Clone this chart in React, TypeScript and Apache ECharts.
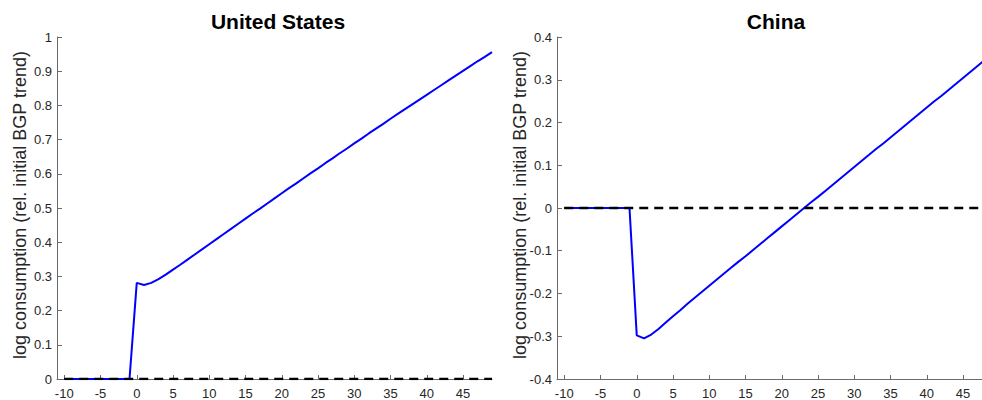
import React, { useEffect, useRef } from "react";
import * as echarts from "echarts";

const years = [
  -10, -9, -8, -7, -6, -5, -4, -3, -2, -1,
  0, 1, 2, 3, 4, 5, 6, 7, 8, 9,
  10, 11, 12, 13, 14, 15, 16, 17, 18, 19,
  20, 21, 22, 23, 24, 25, 26, 27, 28, 29,
  30, 31, 32, 33, 34, 35, 36, 37, 38, 39,
  40, 41, 42, 43, 44, 45, 46, 47, 48, 49,
];

const usConsumption = [
  0, 0, 0, 0, 0, 0, 0, 0, 0, 0,
  0.281, 0.275, 0.281, 0.292, 0.305, 0.32, 0.334, 0.349, 0.364, 0.379,
  0.394, 0.409, 0.424, 0.439, 0.454, 0.469, 0.484, 0.498, 0.513, 0.528,
  0.543, 0.558, 0.572, 0.587, 0.602, 0.616, 0.631, 0.645, 0.66, 0.674,
  0.689, 0.703, 0.718, 0.732, 0.746, 0.761, 0.775, 0.789, 0.803, 0.817,
  0.831, 0.845, 0.859, 0.873, 0.887, 0.901, 0.915, 0.929, 0.942, 0.956,
];

const chinaConsumption = [
  0, 0, 0, 0, 0, 0, 0, 0, 0, 0,
  -0.298, -0.305, -0.296, -0.283, -0.268, -0.253, -0.239, -0.224, -0.21, -0.196,
  -0.182, -0.168, -0.154, -0.14, -0.126, -0.113, -0.099, -0.085, -0.071, -0.057,
  -0.043, -0.029, -0.015, -0.001, 0.013, 0.026, 0.04, 0.054, 0.068, 0.082,
  0.096, 0.11, 0.124, 0.138, 0.151, 0.165, 0.179, 0.193, 0.207, 0.221,
  0.235, 0.249, 0.262, 0.276, 0.29, 0.304, 0.318, 0.332, 0.346, 0.36,
];

const baseline = [
  0, 0, 0, 0, 0, 0, 0, 0, 0, 0,
  0, 0, 0, 0, 0, 0, 0, 0, 0, 0,
  0, 0, 0, 0, 0, 0, 0, 0, 0, 0,
  0, 0, 0, 0, 0, 0, 0, 0, 0, 0,
  0, 0, 0, 0, 0, 0, 0, 0, 0, 0,
  0, 0, 0, 0, 0, 0, 0, 0, 0, 0,
];

const xTickValues = [-10, -5, 0, 5, 10, 15, 20, 25, 30, 35, 40, 45];
const panelTitles = ["United States", "China"];
const yAxisTitle = "log consumption (rel. initial BGP trend)";

const FONT = "'Liberation Sans', Arial, Helvetica, sans-serif";
const AXIS_COLOR = "#6a6a6a";
const LABEL_COLOR = "#262626";

function pairs(xs: number[], ys: number[]) {
  return xs.map((x, i) => [x, ys[i]]);
}

export default function App() {
  const ref = useRef<HTMLDivElement>(null);

  useEffect(() => {
    if (!ref.current) return;
    const chart = echarts.init(ref.current, undefined, { renderer: "svg" });

    const makeX = (gridIndex: number) => ({
      type: "value" as const,
      gridIndex,
      min: -11,
      max: 49,
      axisLine: { show: true, onZero: false, lineStyle: { color: AXIS_COLOR, width: 1 } },
      axisTick: {
        show: true,
        inside: true,
        length: 4,
        customValues: xTickValues,
        lineStyle: { color: AXIS_COLOR, width: 1 },
      },
      axisLabel: {
        show: true,
        customValues: xTickValues,
        margin: 8,
        color: LABEL_COLOR,
        fontSize: 13,
        fontFamily: FONT,
      },
      splitLine: { show: false },
    });

    const makeY = (gridIndex: number, min: number, max: number) => ({
      type: "value" as const,
      gridIndex,
      min,
      max,
      interval: 0.1,
      axisLine: { show: true, onZero: false, lineStyle: { color: AXIS_COLOR, width: 1 } },
      axisTick: { show: true, inside: true, length: 5, lineStyle: { color: AXIS_COLOR, width: 1 } },
      axisLabel: {
        show: true,
        margin: 5,
        color: LABEL_COLOR,
        fontSize: 13,
        fontFamily: FONT,
      },
      splitLine: { show: false },
    });

    const option: any = {
      animation: false,
      backgroundColor: "#ffffff",
      grid: [
        { left: 57, top: 37, width: 435, height: 342 },
        { left: 557, top: 37, width: 435, height: 342 },
      ],
      xAxis: [makeX(0), makeX(1)],
      yAxis: [makeY(0, 0, 1), makeY(1, -0.4, 0.4)],
      series: [
        {
          type: "line",
          xAxisIndex: 0,
          yAxisIndex: 0,
          data: pairs(years, usConsumption),
          showSymbol: false,
          lineStyle: { color: "#0000ff", width: 2 },
          z: 2,
        },
        {
          type: "line",
          xAxisIndex: 0,
          yAxisIndex: 0,
          data: pairs(years, baseline),
          showSymbol: false,
          lineStyle: { color: "#000000", width: 2.5, type: [9, 6] },
          z: 3,
        },
        {
          type: "line",
          xAxisIndex: 1,
          yAxisIndex: 1,
          data: pairs(years, chinaConsumption),
          showSymbol: false,
          lineStyle: { color: "#0000ff", width: 2 },
          z: 2,
        },
        {
          type: "line",
          xAxisIndex: 1,
          yAxisIndex: 1,
          data: pairs(years, baseline),
          showSymbol: false,
          lineStyle: { color: "#000000", width: 2.5, type: [9, 6] },
          z: 3,
        },
      ],
      graphic: [
        {
          type: "text",
          x: 278,
          y: 21,
          style: {
            text: panelTitles[0],
            fill: "#000000",
            font: `bold 21px ${FONT}`,
            textAlign: "center",
            textVerticalAlign: "middle",
          },
        },
        {
          type: "text",
          x: 776,
          y: 21,
          style: {
            text: panelTitles[1],
            fill: "#000000",
            font: `bold 21px ${FONT}`,
            textAlign: "center",
            textVerticalAlign: "middle",
          },
        },
        {
          type: "text",
          x: 20,
          y: 205,
          rotation: Math.PI / 2,
          style: {
            text: yAxisTitle,
            fill: LABEL_COLOR,
            font: `18px ${FONT}`,
            textAlign: "center",
            textVerticalAlign: "middle",
          },
        },
        {
          type: "text",
          x: 520,
          y: 205,
          rotation: Math.PI / 2,
          style: {
            text: yAxisTitle,
            fill: LABEL_COLOR,
            font: `18px ${FONT}`,
            textAlign: "center",
            textVerticalAlign: "middle",
          },
        },
      ],
    };

    chart.setOption(option);
    return () => chart.dispose();
  }, []);

  return (
    <div
      ref={ref}
      style={{ position: "fixed", left: 0, top: 0, width: 1000, height: 400, background: "#fff" }}
    />
  );
}
